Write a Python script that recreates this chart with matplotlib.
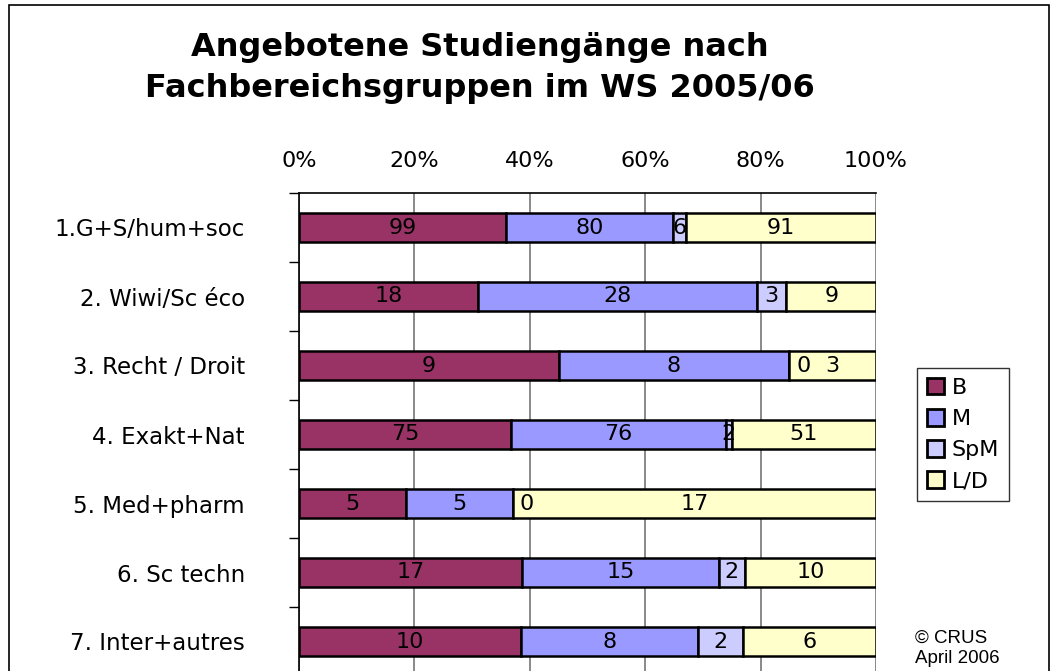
import numpy as np
import matplotlib
matplotlib.use("Agg")
import matplotlib.pyplot as plt
from matplotlib.patches import Rectangle

# Daten: Anzahl Studiengaenge je Fachbereichsgruppe
categories = ["1.G+S/hum+soc", "2. Wiwi/Sc éco", "3. Recht / Droit", "4. Exakt+Nat",
              "5. Med+pharm", "6. Sc techn", "7. Inter+autres"]
series = ["B", "M", "SpM", "L/D"]
B = [99, 18, 9, 75, 5, 17, 10]
M = [80, 28, 8, 76, 5, 15, 8]
SpM = [6, 3, 0, 2, 0, 2, 2]
LD = [91, 9, 3, 51, 17, 10, 6]
colors = ["#993366", "#9999FF", "#CCCCFF", "#FFFFCC"]

values = np.array([B, M, SpM, LD], dtype=float)
totals = values.sum(axis=0)
shares = values / totals * 100

plt.rcParams['font.family'] = ['DejaVu Sans']
fig = plt.figure(figsize=(10.53, 6.71), dpi=100)

# Rahmen um die ganze Grafik
fig.patches.append(Rectangle((9 / 1053, -0.01), 1040 / 1053, 1 - 5 / 671 + 0.01,
                             transform=fig.transFigure, fill=False,
                             edgecolor="black", linewidth=1.2))

ax = fig.add_axes([299 / 1053, (671 - 676) / 671, 577 / 1053, 483 / 671])
y = np.arange(len(categories))
left = np.zeros(len(categories))
for i, name in enumerate(series):
    ax.barh(y, shares[i], left=left, height=0.41, color=colors[i],
            edgecolor="black", linewidth=1.8, label=name, zorder=3)
    for j in range(len(categories)):
        v = int(values[i, j])
        if v == 0:
            ax.annotate("0", (left[j], y[j]), xytext=(10, 0), textcoords="offset points",
                        ha="center", va="center", fontsize=16, zorder=4)
        else:
            ax.text(left[j] + shares[i, j] / 2, y[j], str(v), ha="center", va="center",
                    fontsize=16, zorder=4)
    left += shares[i]

ax.set_xlim(0, 100)
ax.set_ylim(len(categories) - 0.5, -0.5)
ax.set_xticks([0, 20, 40, 60, 80, 100])
ax.set_xticklabels(["0%", "20%", "40%", "60%", "80%", "100%"], fontsize=16)
ax.xaxis.tick_top()
ax.tick_params(axis="x", length=0, pad=16)
ax.set_yticks(y)
ax.set_yticklabels(categories, fontsize=16.5)
ax.set_yticks(np.arange(len(categories) + 1) - 0.5, minor=True)
ax.tick_params(axis="y", which="major", length=0, pad=39)
ax.tick_params(axis="y", which="minor", length=7, width=1, direction="out")
ax.grid(axis="x", color="#808080", linewidth=1.3, zorder=0)
for s in ["right", "bottom"]:
    ax.spines[s].set_visible(False)
ax.spines["top"].set_linewidth(1.2)
ax.spines["left"].set_linewidth(1.2)

fig.text(480 / 1053, 1 - 68 / 671, "Angebotene Studiengänge nach\nFachbereichsgruppen im WS 2005/06",
         ha="center", va="center", fontsize=23, fontweight="bold", linespacing=1.4)

leg = fig.legend(loc="upper left", bbox_to_anchor=(917 / 1053, 1 - 368 / 671), fontsize=16,
                 frameon=True, fancybox=False, edgecolor="black", handlelength=0.75,
                 handleheight=0.75, handletextpad=0.35, labelspacing=0.5,
                 borderpad=0.45, borderaxespad=0)
leg.get_frame().set_linewidth(1.0)
for h in leg.legend_handles:
    h.set_linewidth(2)

fig.text(915 / 1053, 1 - 648 / 671, "© CRUS\nApril 2006", ha="left", va="center",
         fontsize=13.5, family=["Liberation Sans", "DejaVu Sans"], linespacing=1.25)

fig.savefig("out.png", dpi=100)
